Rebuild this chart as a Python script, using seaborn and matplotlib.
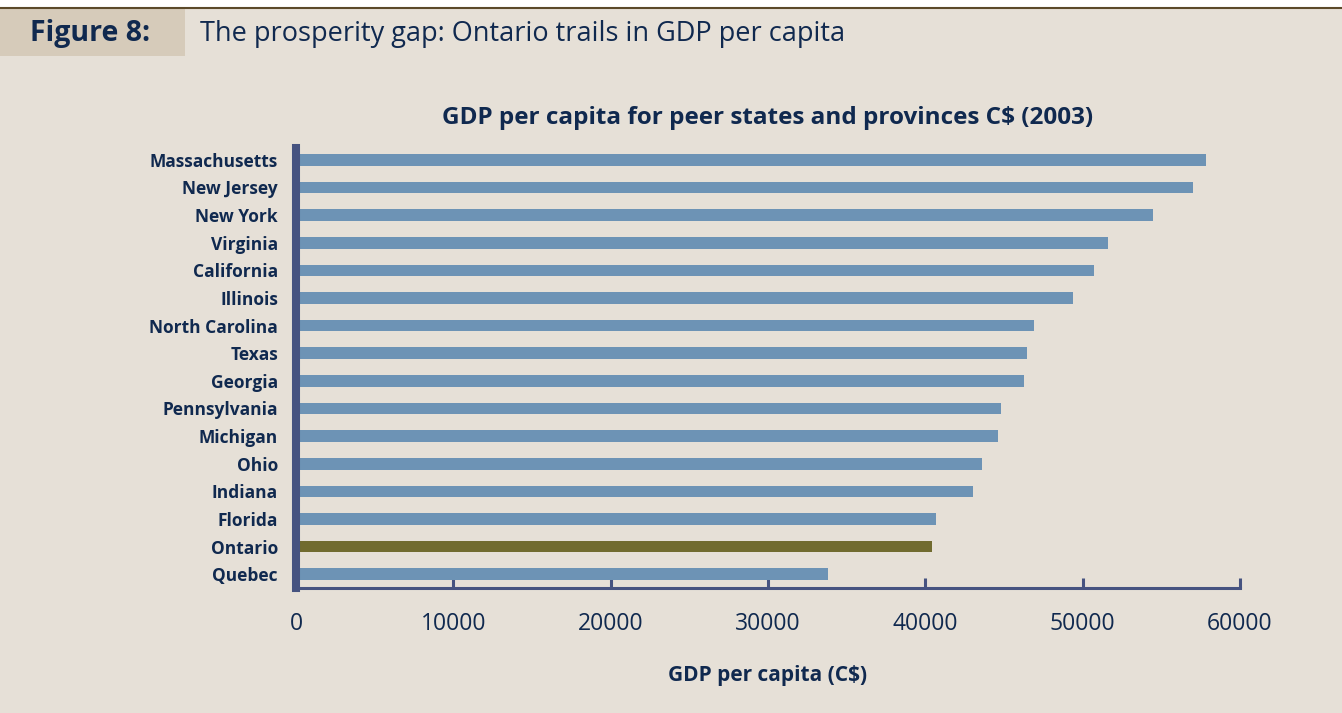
import matplotlib
matplotlib.use("Agg")
import matplotlib.pyplot as plt
import seaborn as sns
import pandas as pd
from matplotlib.patches import Rectangle
from matplotlib.lines import Line2D

categories = ["Massachusetts", "New Jersey", "New York", "Virginia", "California",
              "Illinois", "North Carolina", "Texas", "Georgia", "Pennsylvania",
              "Michigan", "Ohio", "Indiana", "Florida", "Ontario", "Quebec"]
gdp_per_capita = [57850, 57000, 54500, 51600, 50700, 49400, 46900, 46450, 46300,
                  44800, 44600, 43600, 43000, 40700, 40400, 33800]
x_ticks = [0, 10000, 20000, 30000, 40000, 50000, 60000]

BG = "#E6E0D7"
NAVY = "#10294F"
BLUE = "#6D93B5"
OLIVE = "#716B2F"
SPINE = "#465380"

sns.set_theme(style="white")
plt.rcParams["font.family"] = ["Open Sans", "DejaVu Sans"]

fig = plt.figure(figsize=(13.42, 7.13), dpi=100, facecolor=BG)
W, H = 1342, 713
ax = fig.add_axes([296 / W, 1 - 588 / H, (1240 - 296) / W, (588 - 148) / H])
ax.set_facecolor(BG)

df = pd.DataFrame({"region": categories, "gdp": gdp_per_capita})
palette = {c: (OLIVE if c == "Ontario" else BLUE) for c in categories}
sns.barplot(data=df, x="gdp", y="region", hue="region", palette=palette,
            width=0.42, saturation=1, legend=False, ax=ax, order=categories,
            linewidth=0, edgecolor="none")

ax.set_xlim(0, 60000)
ax.set_ylim(15.5, -0.43)
ax.set_xticks(x_ticks)
ax.set_xticklabels([str(t) for t in x_ticks])
for s in ["top", "right"]:
    ax.spines[s].set_visible(False)
ax.spines["left"].set_color(SPINE)
ax.spines["left"].set_linewidth(5.8)
ax.spines["left"].set_zorder(5)
ax.spines["bottom"].set_color(SPINE)
ax.spines["bottom"].set_linewidth(2.2)
ax.tick_params(axis="x", bottom=True, direction="in", length=7.2, width=2.2, color=SPINE,
               pad=17, labelsize=16.5, labelcolor=NAVY)
ax.tick_params(axis="y", left=False, length=0, pad=13, labelcolor=NAVY)
for lbl in ax.get_yticklabels():
    lbl.set_fontweight("bold")
    lbl.set_fontsize(12.5)
ax.set_ylabel("")
ax.set_xlabel("GDP per capita (C$)", fontsize=15, fontweight="bold", color=NAVY, labelpad=21)
ax.set_title("GDP per capita for peer states and provinces C$ (2003)", fontsize=17.5,
             fontweight="bold", color=NAVY, pad=17)

# header
fig.patches.append(Rectangle((0, 1 - 8 / H), 1, 8 / H, transform=fig.transFigure,
                             facecolor="white", edgecolor="none", zorder=0))
fig.lines.append(Line2D([0, 1], [1 - 8 / H, 1 - 8 / H], transform=fig.transFigure,
                        color="#5C4A2A", linewidth=1.5))
fig.patches.append(Rectangle((0, 1 - 56 / H), 185 / W, 47 / H, transform=fig.transFigure,
                             facecolor="#D6CBBA", edgecolor="none", zorder=0))
fig.text(30 / W, 1 - 34 / H, "Figure 8:", fontsize=20.5, fontweight="bold", color=NAVY,
         va="center", ha="left")
fig.text(200 / W, 1 - 34 / H, "The prosperity gap: Ontario trails in GDP per capita",
         fontsize=19.5, color=NAVY, va="center", ha="left")

fig.savefig("out.png", dpi=100, facecolor=BG)
